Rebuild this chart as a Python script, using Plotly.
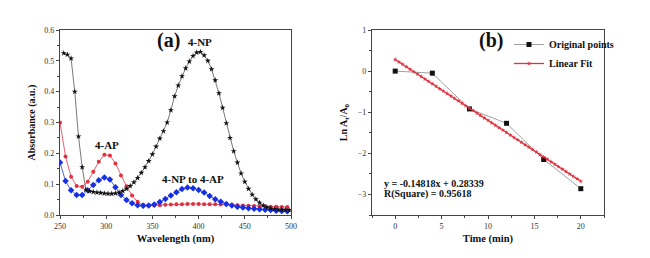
import plotly.graph_objects as go

# ---------------- data: panel (a) ----------------
wl_np = [254, 258, 262, 266, 270, 274, 278, 282, 286, 290, 294, 298, 302, 306, 310,
         314, 318, 322, 326, 330, 334, 338, 342, 346, 350, 354, 358, 362, 366, 370,
         374, 378, 382, 386, 390, 394, 398, 402, 406, 410, 414, 418, 422, 426, 430,
         434, 438, 442, 446, 450, 454, 458, 462, 466, 470, 474, 478, 482, 486, 490,
         494, 498]
abs_np = [0.525, 0.520, 0.508, 0.400, 0.255, 0.155, 0.082, 0.077, 0.075, 0.073,
          0.072, 0.070, 0.069, 0.069, 0.070, 0.073, 0.078, 0.085, 0.094, 0.106,
          0.120, 0.137, 0.155, 0.175, 0.197, 0.222, 0.248, 0.272, 0.300, 0.340,
          0.385, 0.420, 0.450, 0.476, 0.498, 0.516, 0.527, 0.529, 0.518, 0.500,
          0.473, 0.437, 0.395, 0.348, 0.298, 0.250, 0.207, 0.170, 0.135, 0.108,
          0.085, 0.066, 0.051, 0.040, 0.031, 0.025, 0.021, 0.019, 0.018, 0.017,
          0.017, 0.016]

wl_ap = [250, 256, 262, 268, 274, 280, 286, 292, 298, 304, 310, 316, 322, 328, 334,
         340, 346, 352, 358, 364, 370, 376, 382, 388, 394, 400, 406, 412, 418, 424,
         430, 436, 442, 448, 454, 460, 466, 472, 478, 484, 490, 496]
abs_ap = [0.300, 0.190, 0.124, 0.094, 0.092, 0.108, 0.140, 0.173, 0.195, 0.193,
          0.167, 0.128, 0.093, 0.063, 0.043, 0.033, 0.031, 0.031, 0.032, 0.033,
          0.034, 0.035, 0.035, 0.036, 0.036, 0.036, 0.035, 0.035, 0.035, 0.034,
          0.034, 0.033, 0.032, 0.031, 0.030, 0.029, 0.028, 0.028, 0.027, 0.027,
          0.026, 0.026]

wl_mix = [250, 256, 262, 268, 274, 280, 286, 292, 298, 304, 310, 316, 322, 328, 334,
          340, 346, 352, 358, 364, 370, 376, 382, 388, 394, 400, 406, 412, 418, 424,
          430, 436, 442, 448, 454, 460, 466, 472, 478, 484, 490, 496]
abs_mix = [0.170, 0.110, 0.080, 0.065, 0.065, 0.080, 0.097, 0.113, 0.122, 0.115,
           0.090, 0.065, 0.049, 0.038, 0.032, 0.030, 0.031, 0.034, 0.042, 0.052,
           0.063, 0.074, 0.084, 0.089, 0.087, 0.081, 0.073, 0.062, 0.051, 0.043,
           0.036, 0.031, 0.027, 0.024, 0.022, 0.020, 0.019, 0.017, 0.016, 0.014,
           0.013, 0.012]

# ---------------- data: panel (b) ----------------
time_pts = [0, 4, 8, 12, 16, 20]
ln_ratio = [0.0, -0.05, -0.92, -1.27, -2.15, -2.86]

fit_x = [0.0, 0.4, 0.8, 1.2, 1.6, 2.0, 2.4, 2.8, 3.2, 3.6, 4.0, 4.4, 4.8, 5.2, 5.6,
         6.0, 6.4, 6.8, 7.2, 7.6, 8.0, 8.4, 8.8, 9.2, 9.6, 10.0, 10.4, 10.8, 11.2,
         11.6, 12.0, 12.4, 12.8, 13.2, 13.6, 14.0, 14.4, 14.8, 15.2, 15.6, 16.0,
         16.4, 16.8, 17.2, 17.6, 18.0, 18.4, 18.8, 19.2, 19.6, 20.0]
fit_y = [0.2834, 0.2241, 0.1649, 0.1056, 0.0463, -0.0130, -0.0722, -0.1315, -0.1908,
         -0.2500, -0.3093, -0.3686, -0.4279, -0.4871, -0.5464, -0.6057, -0.6649,
         -0.7242, -0.7835, -0.8428, -0.9020, -0.9613, -1.0206, -1.0798, -1.1391,
         -1.1984, -1.2577, -1.3169, -1.3762, -1.4355, -1.4948, -1.5540, -1.6133,
         -1.6726, -1.7318, -1.7911, -1.8504, -1.9097, -1.9689, -2.0282, -2.0875,
         -2.1467, -2.2060, -2.2653, -2.3246, -2.3838, -2.4431, -2.5024, -2.5616,
         -2.6209, -2.6802]

FONT = "Liberation Serif"
BLACK = "#111111"
RED = "#e2303f"
BLUE = "#1530e6"

W, H = 650, 258
OFF = 8  # page body margin offset


def px_x(v):
    return (v - OFF) / W


def px_y(v):
    return 1 - (v - OFF) / H


fig = go.Figure()

# panel (a)
fig.add_trace(go.Scatter(x=wl_ap, y=abs_ap, mode="lines+markers", xaxis="x", yaxis="y",
                         line=dict(color="#e86070", width=1),
                         marker=dict(symbol="circle", size=4, color=RED), showlegend=False))
fig.add_trace(go.Scatter(x=wl_mix, y=abs_mix, mode="lines+markers", xaxis="x", yaxis="y",
                         line=dict(color="#5060e0", width=1),
                         marker=dict(symbol="diamond", size=5, color=BLUE), showlegend=False))
fig.add_trace(go.Scatter(x=wl_np, y=abs_np, mode="lines+markers", xaxis="x", yaxis="y",
                         line=dict(color="#555555", width=0.8),
                         marker=dict(symbol="star", size=4.5, color=BLACK), showlegend=False))

# panel (b)
fig.add_trace(go.Scatter(x=time_pts, y=ln_ratio, mode="lines+markers", xaxis="x2", yaxis="y2",
                         name="<b>Original points</b>",
                         line=dict(color="#888888", width=0.8),
                         marker=dict(symbol="square", size=5, color=BLACK)))
fig.add_trace(go.Scatter(x=fit_x, y=fit_y, mode="lines+markers", xaxis="x2", yaxis="y2",
                         name="<b>Linear Fit</b>",
                         line=dict(color=RED, width=1.3),
                         marker=dict(symbol="star", size=3.5, color=RED)))

axis_common = dict(showgrid=False, zeroline=False, showline=True, mirror=True,
                   linecolor="#444444", linewidth=1.3, ticks="outside", ticklen=3,
                   tickcolor="#444444", automargin=False,
                   tickfont=dict(family=FONT, size=8, color="#333333"))
minor_common = dict(ticks="outside", ticklen=2, tickcolor="#444444")

fig.update_layout(
    width=W, height=H,
    margin=dict(l=0, r=0, t=0, b=0),
    paper_bgcolor="white", plot_bgcolor="white",
    font=dict(family=FONT, color="#111111"),
    xaxis=dict(domain=[px_x(60), px_x(291)], range=[250, 500], dtick=50,
               anchor="y", minor=dict(dtick=25, **minor_common),
               title=dict(text="<b>Wavelength (nm)</b>", font=dict(family=FONT, size=10.5), standoff=4),
               **axis_common),
    yaxis=dict(domain=[px_y(215), px_y(30)], range=[0, 0.6], dtick=0.1, tickformat=".1f",
               anchor="x", minor=dict(dtick=0.05, **minor_common),
               title=dict(text="<b>Absorbance (a.u.)</b>", font=dict(family=FONT, size=10), standoff=6),
               **axis_common),
    xaxis2=dict(domain=[px_x(372), px_x(604)], range=[-2.5, 22.5], dtick=5, tick0=0,
                anchor="y2", minor=dict(dtick=2.5, tick0=0, **minor_common),
                title=dict(text="<b>Time (min)</b>", font=dict(family=FONT, size=10.5), standoff=4),
                **axis_common),
    yaxis2=dict(domain=[px_y(215), px_y(30)], range=[-3.5, 1], dtick=1,
                anchor="x2", minor=dict(dtick=0.5, **minor_common),
                title=dict(text="<b>Ln A<sub>t</sub>/A<sub>0</sub></b>", font=dict(family=FONT, size=10), standoff=8),
                **axis_common),
    legend=dict(x=px_x(509), y=px_y(30), xanchor="left", yanchor="top",
                bgcolor="rgba(0,0,0,0)", font=dict(family=FONT, size=10, color="#111111"),
                tracegroupgap=0, itemwidth=30),
    showlegend=True,
)

annos = [
    dict(text="<b>(a)</b>", x=367, y=0.565, xref="x", yref="y", font=dict(size=20)),
    dict(text="<b>4-NP</b>", x=401, y=0.56, xref="x", yref="y", font=dict(size=11)),
    dict(text="<b>4-AP</b>", x=301, y=0.227, xref="x", yref="y", font=dict(size=11)),
    dict(text="<b>4-NP to 4-AP</b>", x=394, y=0.118, xref="x", yref="y", font=dict(size=11)),
    dict(text="<b>(b)</b>", x=10.3, y=0.75, xref="x2", yref="y2", font=dict(size=20)),
    dict(text="<b>y = -0.14818x + 0.28339</b>", x=-1.4, y=-2.73, xref="x2", yref="y2",
         xanchor="left", font=dict(size=10)),
    dict(text="<b>R(Square) = 0.95618</b>", x=-1.4, y=-2.99, xref="x2", yref="y2",
         xanchor="left", font=dict(size=10)),
]
for a in annos:
    a["showarrow"] = False
    a["font"]["family"] = FONT
    a["font"]["color"] = "#111111"
    a.setdefault("xanchor", "center")
fig.update_layout(annotations=annos)

fig.write_html("out.html")
